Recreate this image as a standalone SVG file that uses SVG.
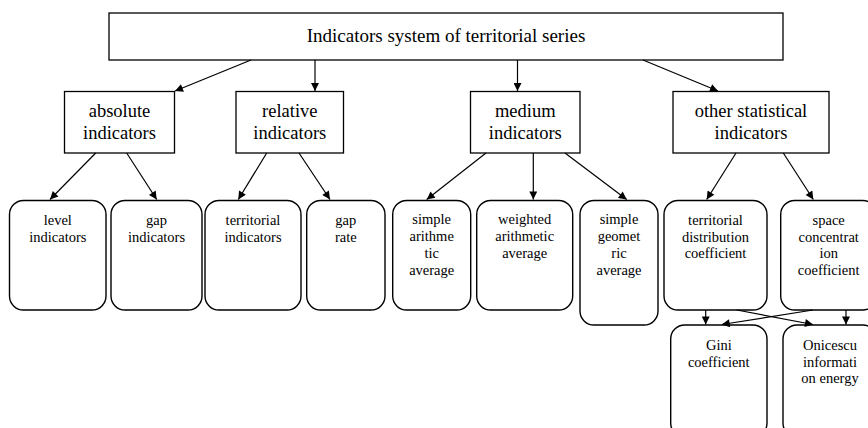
<svg xmlns="http://www.w3.org/2000/svg" width="868" height="428" viewBox="0 0 868 428">
<defs>
<marker id="ah" viewBox="0 0 10 10" refX="10" refY="5" markerUnits="userSpaceOnUse" markerWidth="10" markerHeight="8" orient="auto">
<path d="M0,0 L10,5 L0,10 z" fill="#000"/>
</marker>
</defs>
<style>
.box{fill:#fff;stroke:#000;stroke-width:1.3}
.rbox{fill:#fff;stroke:#000;stroke-width:1.4}
.t0{font-family:"Liberation Serif","Times New Roman",serif;font-size:19px;fill:#000;text-anchor:middle}
.t1{font-family:"Liberation Serif","Times New Roman",serif;font-size:18.5px;fill:#000;text-anchor:middle}
.t3{font-family:"Liberation Serif","Times New Roman",serif;font-size:14.5px;fill:#000;text-anchor:middle}
.c{stroke:#000;stroke-width:1.2;fill:none;marker-end:url(#ah)}
</style>
<rect width="868" height="428" fill="#fff"/>

<g id="root">
<rect class="box" x="109" y="13" width="674" height="47"/>
<text class="t0" x="446" y="42">Indicators system of territorial series</text>
</g>

<g id="absolute">
<rect class="box" x="64.5" y="91.5" width="110" height="61.5"/>
<text class="t1" x="119.5" y="117">absolute</text>
<text class="t1" x="119.5" y="138.5">indicators</text>
</g>
<g id="relative">
<rect class="box" x="236" y="91.5" width="107.5" height="61.5"/>
<text class="t1" x="289.8" y="117">relative</text>
<text class="t1" x="289.8" y="138.5">indicators</text>
</g>
<g id="medium">
<rect class="box" x="470.5" y="91.5" width="109.5" height="61.5"/>
<text class="t1" x="525.3" y="117">medium</text>
<text class="t1" x="525.3" y="138.5">indicators</text>
</g>
<g id="other">
<rect class="box" x="673" y="91.5" width="156" height="61.5"/>
<text class="t1" x="751" y="117">other statistical</text>
<text class="t1" x="751" y="138.5">indicators</text>
</g>

<g id="level">
<rect class="rbox" x="9.5" y="200.5" width="96.5" height="109.5" rx="14"/>
<text class="t3" x="57.8" y="225">level</text>
<text class="t3" x="57.8" y="242">indicators</text>
</g>
<g id="gap">
<rect class="rbox" x="111" y="200.5" width="91" height="109.5" rx="14"/>
<text class="t3" x="156.5" y="225">gap</text>
<text class="t3" x="156.5" y="242">indicators</text>
</g>
<g id="territorial">
<rect class="rbox" x="205" y="200.5" width="96" height="109.5" rx="14"/>
<text class="t3" x="253" y="225">territorial</text>
<text class="t3" x="253" y="242">indicators</text>
</g>
<g id="gaprate">
<rect class="rbox" x="306.7" y="200.5" width="78.3" height="109.5" rx="14"/>
<text class="t3" x="345.8" y="225">gap</text>
<text class="t3" x="345.8" y="242">rate</text>
</g>
<g id="arith">
<rect class="rbox" x="392.7" y="200.5" width="78" height="109.5" rx="14"/>
<text class="t3" x="431.7" y="224">simple</text>
<text class="t3" x="431.7" y="241">arithme</text>
<text class="t3" x="431.7" y="258">tic</text>
<text class="t3" x="431.7" y="275">average</text>
</g>
<g id="weighted">
<rect class="rbox" x="476.7" y="200.5" width="96" height="109.5" rx="14"/>
<text class="t3" x="524.7" y="224">weighted</text>
<text class="t3" x="524.7" y="241">arithmetic</text>
<text class="t3" x="524.7" y="258">average</text>
</g>
<g id="geom">
<rect class="rbox" x="580" y="200.5" width="78" height="124.5" rx="14"/>
<text class="t3" x="619" y="224">simple</text>
<text class="t3" x="619" y="241">geomet</text>
<text class="t3" x="619" y="258">ric</text>
<text class="t3" x="619" y="275">average</text>
</g>
<g id="distribution">
<rect class="rbox" x="664" y="200.5" width="103" height="109.5" rx="14"/>
<text class="t3" x="715.5" y="225">territorial</text>
<text class="t3" x="715.5" y="241.5">distribution</text>
<text class="t3" x="715.5" y="258">coefficient</text>
</g>
<g id="concentration">
<rect class="rbox" x="780.7" y="200.5" width="96" height="109.5" rx="14"/>
<text class="t3" x="828.7" y="225">space</text>
<text class="t3" x="828.7" y="241.5">concentrat</text>
<text class="t3" x="828.7" y="258">ion</text>
<text class="t3" x="828.7" y="274.5">coefficient</text>
</g>
<g id="gini">
<rect class="rbox" x="670.7" y="325" width="96.3" height="112" rx="14"/>
<text class="t3" x="718.8" y="350">Gini</text>
<text class="t3" x="718.8" y="366.5">coefficient</text>
</g>
<g id="onicescu">
<rect class="rbox" x="783" y="325" width="94" height="112" rx="14"/>
<text class="t3" x="830" y="350">Onicescu</text>
<text class="t3" x="830" y="366.5">informati</text>
<text class="t3" x="830" y="383">on energy</text>
</g>

<g id="connectors">
<line class="c" x1="251" y1="60" x2="175" y2="91"/>
<line class="c" x1="315" y1="60" x2="315" y2="91"/>
<line class="c" x1="517.5" y1="60" x2="517.5" y2="91"/>
<line class="c" x1="643" y1="60" x2="718" y2="91"/>

<line class="c" x1="95.7" y1="153" x2="50" y2="199.5"/>
<line class="c" x1="126.7" y1="153" x2="156.7" y2="199.5"/>
<line class="c" x1="266.7" y1="153" x2="238.3" y2="199.5"/>
<line class="c" x1="299" y1="153" x2="330" y2="199.5"/>
<line class="c" x1="486" y1="153" x2="426.7" y2="199.5"/>
<line class="c" x1="533.3" y1="153" x2="533.3" y2="199.5"/>
<line class="c" x1="565" y1="153" x2="626.7" y2="199.5"/>
<line class="c" x1="736" y1="153" x2="706.7" y2="199.5"/>
<line class="c" x1="783.3" y1="153" x2="813.3" y2="199.5"/>

<line class="c" x1="705.7" y1="310" x2="705.7" y2="324.5"/>
<line class="c" x1="736.7" y1="310" x2="813" y2="324.5"/>
<line class="c" x1="813" y1="310" x2="721.7" y2="324.5"/>
<line class="c" x1="846" y1="310" x2="846" y2="324.5"/>
</g>
</svg>
